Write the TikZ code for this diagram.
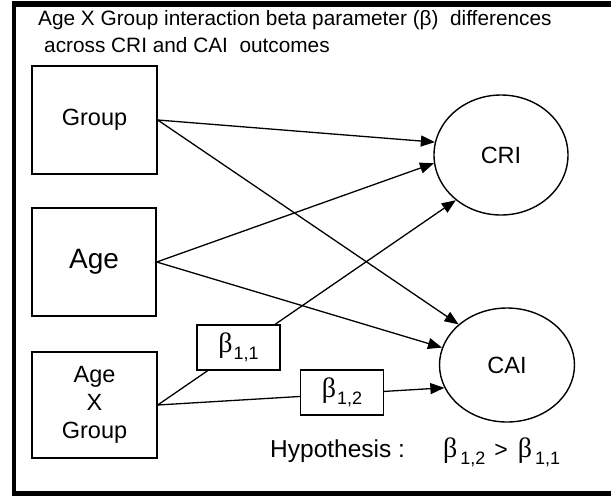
\documentclass[tikz,border=0pt]{standalone}
\usepackage{fontspec}
\setmainfont{Liberation Sans}
\newfontfamily\greekserif{Liberation Serif}
\usetikzlibrary{arrows.meta,backgrounds,shapes.geometric}
\newcommand\betasub[2][1pt]{{\greekserif\fontsize{28}{28}\selectfont β}\hspace{#1}\raisebox{-7pt}{\fontsize{18}{18}\selectfont #2}}
\begin{document}
\begin{tikzpicture}[x=1pt,y=-1pt,
  varbox/.style={draw, line width=1.4pt, minimum width=125pt, minimum height=108pt, inner sep=0pt, align=center, font=\fontsize{23.5}{28}\selectfont},
  outcome/.style={draw, ellipse, line width=1.4pt, inner sep=0pt, font=\fontsize{23.5}{23.5}\selectfont},
  betabox/.style={draw, fill=white, line width=1.4pt, minimum width=83pt, minimum height=45pt, inner sep=0pt},
  conn/.style={line width=1.3pt, -{Triangle[length=14pt,width=11pt]}},
  txt/.style={inner sep=0pt, anchor=base west}
]
\useasboundingbox (0,0) rectangle (611,496);
% frame
\fill (12,1) rectangle (611,6.5);
\fill (12,1) rectangle (15.5,496);
\fill (12,491) rectangle (611,496);
% title
\node[txt, font=\fontsize{20.8}{20.8}\selectfont] (title1) at (38,25) {Age X Group interaction beta parameter (β)\ \ differences};
\node[txt, font=\fontsize{20.8}{20.8}\selectfont] (title2) at (44,52) {across CRI and CAI\ \ outcomes};
% variables
\node[varbox] (group) at (94.5,120) {Group};
\node[varbox, minimum width=124pt, font=\fontsize{28}{28}\selectfont] (age) at (94,262) {Age};
\node[varbox, minimum height=106pt] (axg) at (94.5,405) {Age\\X\\Group};
% outcomes
\node[outcome, minimum width=134pt, minimum height=120pt] (cri) at (501,155) {CRI};
\node[outcome, minimum width=135pt, minimum height=114pt] (cai) at (507,365) {CAI};
% beta boxes
\node[betabox] (b11) at (238.5,347.5) {\betasub{1,1}};
\node[betabox] (b12) at (342,392.5) {\betasub{1,2}};
% hypothesis
\node[txt, font=\fontsize{24.5}{24.5}\selectfont] (hyp) at (270,457) {Hypothesis :};
\node[txt, font=\fontsize{23}{23}\selectfont] (hyprel) at (443,457) {\betasub[3pt]{1,2}\hspace{9pt}>\hspace{10pt}\betasub[3pt]{1,1}};
% connectors
\draw[conn] (group.east) -- (cri.169);
\draw[conn] (group.east) -- (cai.140);
\draw[conn] (age.east) -- (cri.187);
\draw[conn] (age.east) -- (cai.165);
\begin{scope}[on background layer]
\draw[conn] (axg.east) -- (cri.225);
\draw[conn] (axg.east) -- (cai.200);
\end{scope}
\end{tikzpicture}
\end{document}
